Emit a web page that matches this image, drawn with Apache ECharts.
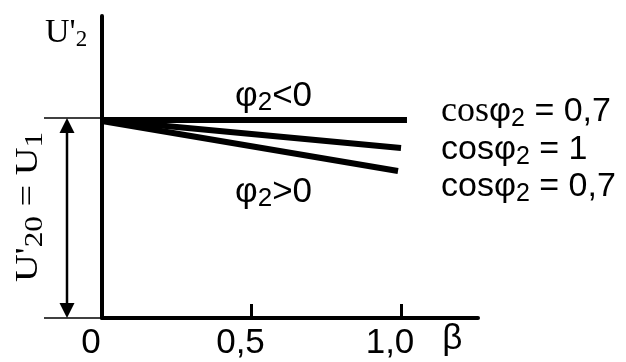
<!DOCTYPE html>
<html>
<head>
<meta charset="utf-8">
<script src="https://cdn.jsdelivr.net/npm/echarts@6/dist/echarts.min.js"></script>
<style>
html,body{margin:0;padding:0;background:#fff;}
#c{width:626px;height:362px;}
</style>
</head>
<body>
<div id="c"></div>
<script>
// ---- data ----
const xTickValues = [0, 0.5, 1.0];
const xTickLabels = ['0', '0,5', '1,0'];
const xName = 'β';
const u20Value = 1.0;          // U'20 = U1 level
const zeroValue = 0;
// φ2 < 0 (capacitive, cosφ2 = 0,7)
const betaLead = [0, 1.02];
const u2Lead = [0.99, 0.99];
// cosφ2 = 1
const betaUnity = [0, 1.0];
const u2Unity = [0.99, 0.85];
// φ2 > 0 (inductive, cosφ2 = 0,7)
const betaLag = [0, 0.99];
const u2Lag = [0.985, 0.735];

const SANS = '"Liberation Sans", Arial, sans-serif';
const SERIF = '"Liberation Serif", "Times New Roman", serif';

function pairs(xs, ys) { return xs.map((x, i) => [x, ys[i]]); }

const chart = echarts.init(document.getElementById('c'), null, {renderer: 'canvas'});

const lineStyle = {color: '#000', width: 6};
const option = {
  animation: false,
  backgroundColor: '#fff',
  grid: {left: 102, right: 148, top: 16, bottom: 44, containLabel: false},
  xAxis: {
    type: 'value', min: 0, max: 1.2575, interval: 0.5,
    name: xName, nameLocation: 'end', nameGap: -26,
    nameTextStyle: {fontFamily: SANS, fontSize: 35, color: '#000', align: 'center', verticalAlign: 'top', lineHeight: 35, padding: [4, 0, 0, 0]},
    axisLine: {show: true, lineStyle: {color: '#000', width: 4}},
    axisTick: {show: true, inside: true, length: 14, lineStyle: {color: '#000', width: 3}, customValues: [0.5, 1.0]},
    axisLabel: {
      show: true, customValues: xTickValues, margin: 8,
      fontFamily: SANS, fontSize: 35, color: '#000', lineHeight: 35,
      padding: [0, 22, 0, 0],
      formatter: function (v) {
        const i = xTickValues.findIndex(t => Math.abs(t - v) < 1e-6);
        return i >= 0 ? xTickLabels[i] : '';
      }
    },
    splitLine: {show: false}
  },
  yAxis: {
    type: 'value', min: 0, max: 1.51,
    axisLine: {show: true, lineStyle: {color: '#000', width: 4}},
    axisTick: {show: false},
    axisLabel: {show: false},
    splitLine: {show: false}
  },
  series: [
    {type: 'line', name: 'φ2<0', data: pairs(betaLead, u2Lead), symbol: 'none', lineStyle: lineStyle, clip: false},
    {type: 'line', name: 'cosφ2=1', data: pairs(betaUnity, u2Unity), symbol: 'none', lineStyle: lineStyle, clip: false},
    {type: 'line', name: 'φ2>0', data: pairs(betaLag, u2Lag), symbol: 'none', lineStyle: lineStyle, clip: false}
  ]
};
chart.setOption(option);

// ---- annotations positioned from the scales ----
const pTop = chart.convertToPixel({xAxisIndex: 0, yAxisIndex: 0}, [0, u20Value]);
const pBot = chart.convertToPixel({xAxisIndex: 0, yAxisIndex: 0}, [0, zeroValue]);
const axX = pTop[0];
const yTop = pTop[1];
const yBot = pBot[1];
const arrowX = axX - 35;
const ah = 15, aw = 7.5;

function makeRich(main, sub) {
  return {
    s: {fontFamily: SANS, fontSize: main, lineHeight: 40, verticalAlign: 'middle', fill: '#000'},
    t: {fontFamily: SERIF, fontSize: main + 2, lineHeight: 40, verticalAlign: 'middle', fill: '#000'},
    b: {fontFamily: SANS, fontSize: sub, lineHeight: sub, verticalAlign: 'bottom', fill: '#000'}
  };
}

function richText(x, y, text, main, sub) {
  return {type: 'text', x: x, y: y, silent: true,
    style: {text: text, rich: makeRich(main, sub), align: 'left', verticalAlign: 'top', fill: '#000'}};
}

chart.setOption({
  graphic: [
    // reference levels
    {type: 'line', shape: {x1: axX - 58, y1: yTop, x2: axX, y2: yTop}, style: {stroke: '#000', lineWidth: 1.5}, silent: true},
    {type: 'line', shape: {x1: axX - 58, y1: yBot, x2: axX, y2: yBot}, style: {stroke: '#000', lineWidth: 1.5}, silent: true},
    // double arrow
    {type: 'line', shape: {x1: arrowX, y1: yTop + ah - 2, x2: arrowX, y2: yBot - ah + 2}, style: {stroke: '#000', lineWidth: 2.5}, silent: true},
    {type: 'polygon', shape: {points: [[arrowX, yTop], [arrowX - aw, yTop + ah], [arrowX + aw, yTop + ah]]}, style: {fill: '#000'}, silent: true},
    {type: 'polygon', shape: {points: [[arrowX, yBot], [arrowX - aw, yBot - ah], [arrowX + aw, yBot - ah]]}, style: {fill: '#000'}, silent: true},
    // y axis name U'2
    {type: 'text', x: 45, y: 15, silent: true,
      style: {text: "{u|U'}{d|2}", align: 'left', verticalAlign: 'top',
        rich: {
          u: {fontFamily: SERIF, fontSize: 34, lineHeight: 36, verticalAlign: 'middle', fill: '#000'},
          d: {fontFamily: SERIF, fontSize: 23, lineHeight: 23, verticalAlign: 'bottom', fill: '#000'}
        }}},
    // rotated U'20 = U1
    {type: 'text', x: 29, y: 207, rotation: Math.PI / 2, scaleX: 1.2, silent: true,
      style: {text: "{u|U'}{d|20}{u| = U}{d|1}", align: 'center', verticalAlign: 'middle',
        rich: {
          u: {fontFamily: SERIF, fontSize: 32, lineHeight: 38, verticalAlign: 'middle', fill: '#000'},
          d: {fontFamily: SERIF, fontSize: 26, lineHeight: 26, verticalAlign: 'bottom', fill: '#000'}
        }}},
    // phase labels
    richText(235, 76, '{s|φ}{b|2}{s|<0}', 35, 26),
    richText(235, 172, '{s|φ}{b|2}{s|>0}', 35, 26),
    // cos labels
    richText(441, 92, '{t|cos}{s|φ}{b|2}{s| = 0,7}', 34, 25),
    richText(441, 130, '{s|cosφ}{b|2}{s| = 1}', 34, 25),
    richText(441, 167, '{s|cosφ}{b|2}{s| = 0,7}', 34, 25)
  ]
});
</script>
</body>
</html>
